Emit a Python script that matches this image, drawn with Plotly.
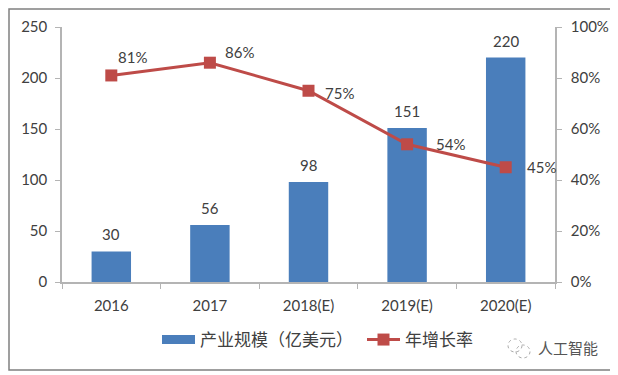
import plotly.graph_objects as go

categories = ["2016", "2017", "2018(E)", "2019(E)", "2020(E)"]
scale = [30, 56, 98, 151, 220]
growth = [81, 86, 75, 54, 45]
growth_labels = ["81%", "86%", "75%", "54%", "45%"]

font = "Lato, Noto Sans CJK SC, sans-serif"
txt = "#404040"
axc = "#B4B4B4"
blue = "#4A7EBB"
red = "#BE4B48"
OFF = 8  # the page body margin
FW, FH = 618 - OFF, 375 - OFF
L, R, T, B = 62 - OFF, 555 - OFF, 27 - OFF, 282 - OFF
W, H = R - L, B - T
px = lambda x: (x - OFF - L) / W
py = lambda y: (B - (y - OFF)) / H

label_shift = [(21, 18), (30, 11), (31, -2), (43, 0), (36, 0)]

fig = go.Figure()
fig.add_bar(x=categories, y=scale, marker=dict(color=blue, line_width=0), width=0.4, showlegend=False)
fig.add_scatter(x=categories[:1], y=[None], mode="lines", name="产业规模（亿美元）", line=dict(color=blue, width=9))
fig.add_scatter(x=categories, y=growth, name="年增长率", yaxis="y2", mode="lines+markers",
                line=dict(color=red, width=3), marker=dict(symbol="square", size=12, color=red), cliponaxis=False)

ann = []
for i, v in enumerate(scale):
    ann.append(dict(x=i, y=v, xref="x", yref="y", text=str(v), showarrow=False, yshift=17,
                    font=dict(size=15, color=txt)))
for i, (v, t, (dx, dy)) in enumerate(zip(growth, growth_labels, label_shift)):
    ann.append(dict(x=i, y=v, xref="x", yref="y2", text=t, showarrow=False, xshift=dx, yshift=dy,
                    font=dict(size=15, color=txt)))
ann.append(dict(x=px(568), y=py(348), xref="paper", yref="paper", xanchor="center", yanchor="middle",
                text="人工智能", showarrow=False, font=dict(size=15, color="#555555")))

shapes = [
    dict(type="rect", xref="paper", yref="paper", x0=px(9), x1=px(614), y0=py(370), y1=py(9),
         line=dict(color="#808080", width=1.5)),
    dict(type="circle", xref="paper", yref="paper", x0=px(508), x1=px(522), y0=py(352), y1=py(339),
         line=dict(color="#AAAAAA", width=1, dash="dot")),
    dict(type="circle", xref="paper", yref="paper", x0=px(516), x1=px(530), y0=py(358), y1=py(345),
         line=dict(color="#AAAAAA", width=1, dash="dot")),
]

axis_common = dict(showline=True, linecolor=axc, linewidth=1.5, ticks="outside", tickcolor=axc, ticklen=5,
                   zeroline=False, showgrid=False, automargin=False)
fig.update_layout(
    width=FW, height=FH, margin=dict(l=L, r=FW - R, t=T, b=FH - B, pad=0, autoexpand=False),
    paper_bgcolor="white", plot_bgcolor="white",
    font=dict(family=font, size=15, color=txt), showlegend=True,
    legend=dict(orientation="h", x=px(157), xanchor="left", y=py(340), yanchor="middle",
                font=dict(size=17, color=txt), itemwidth=33, entrywidth=157, entrywidthmode="pixels",
                bgcolor="rgba(0,0,0,0)"),
    xaxis=dict(type="category", categoryorder="array", categoryarray=categories, tickangle=0,
               range=[-0.5, 4.5], tickson="boundaries", ticklabelstandoff=9, **axis_common),
    yaxis=dict(range=[0, 250], dtick=50, ticklabelstandoff=5, **axis_common),
    yaxis2=dict(range=[0, 100], dtick=20, ticksuffix="%", overlaying="y", side="right", ticklabelstandoff=6,
                **axis_common),
    shapes=shapes, annotations=ann,
)
fig.write_html("out.html")
